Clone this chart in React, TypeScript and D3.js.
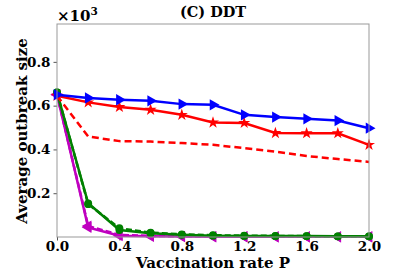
import React, { useEffect, useRef } from "react";
import * as d3 from "d3";

const rates = [0, 0.2, 0.4, 0.6, 0.8, 1.0, 1.2, 1.4, 1.6, 1.8, 2.0];
const blueTri = [0.65, 0.635, 0.627, 0.622, 0.607, 0.604, 0.558, 0.548, 0.54, 0.532, 0.497];
const redStar = [0.645, 0.615, 0.594, 0.581, 0.558, 0.523, 0.521, 0.475, 0.474, 0.474, 0.421];
const redDash = [0.645, 0.459, 0.438, 0.436, 0.429, 0.421, 0.406, 0.39, 0.37, 0.356, 0.343];
const greenDot = [0.66, 0.154, 0.032, 0.017, 0.01, 0.006, 0.005, 0.004, 0.004, 0.003, 0.003];
const greenDash = [0.66, 0.15, 0.04, 0.02, 0.012, 0.008, 0.006, 0.005, 0.004, 0.003, 0.003];
const magTri = [0.65, 0.044, 0.006, 0.003, 0.002, 0.001, 0.001, 0.001, 0.001, 0.001, 0.001];
const magDash = [0.65, 0.05, 0.01, 0.005, 0.003, 0.002, 0.002, 0.001, 0.001, 0.001, 0.001];
const xTicks = [0, 0.4, 0.8, 1.2, 1.6, 2.0];
const yTicks = [0.2, 0.4, 0.6, 0.8];

const series = [
  { vals: magDash, color: "#bf00bf", dash: "6,3", marker: "tl" },
  { vals: magTri, color: "#bf00bf", dash: null, marker: "tl" },
  { vals: greenDash, color: "#008000", dash: "6,3", marker: "circle" },
  { vals: greenDot, color: "#008000", dash: null, marker: "circle" },
  { vals: redDash, color: "#ff0000", dash: "7,4", marker: null },
  { vals: redStar, color: "#ff0000", dash: null, marker: "star" },
  { vals: blueTri, color: "#0000ff", dash: null, marker: "tr" },
];

export default function App() {
  const ref = useRef<SVGSVGElement>(null);

  useEffect(() => {
    const margin = { top: 24, right: 42, bottom: 36, left: 57 },
      W = 411, H = 273,
      w = W - margin.left - margin.right,
      h = H - margin.top - margin.bottom;
    const font = "DejaVu Serif";

    const svg = d3.select(ref.current);
    svg.selectAll("*").remove();
    const g = svg.append("g").attr("transform", `translate(${margin.left}, ${margin.top})`);

    const x = d3.scaleLinear().domain([0, 2]).range([0, w]);
    const y = d3.scaleLinear().domain([0, 0.973]).range([h, 0]);

    // axes
    const xa = g.append("g").attr("transform", `translate(0, ${h})`)
      .call(d3.axisBottom(x).tickValues(xTicks).tickFormat(d3.format(".1f")).tickSize(3.5).tickSizeOuter(0));
    const ya = g.append("g")
      .call(d3.axisLeft(y).tickValues(yTicks).tickFormat(d3.format(".1f")).tickSize(3.5).tickSizeOuter(0));
    [xa, ya].forEach(a => {
      a.attr("font-family", null).attr("font-size", null);
      a.select(".domain").remove();
      a.selectAll("line").attr("stroke", "#555");
      a.selectAll("text").attr("font-family", font).attr("font-weight", "bold")
        .attr("font-size", 13.5).attr("fill", "#000");
    });
    xa.selectAll("text").attr("dy", "0.55em");

    // lines
    const line = d3.line<number>().x((d, i) => x(rates[i])).y(d => y(d));
    series.forEach(s => {
      g.append("path").datum(s.vals).attr("d", line).attr("fill", "none")
        .attr("stroke", s.color).attr("stroke-width", 2.5)
        .attr("stroke-dasharray", s.dash ?? null);
      if (!s.marker) return;
      const sym = s.marker === "circle" ? d3.symbolCircle
        : s.marker === "star" ? d3.symbolStar : d3.symbolTriangle;
      const size = s.marker === "circle" ? 48 : s.marker === "star" ? 45 : 55;
      const rot = s.marker === "tr" ? 90 : s.marker === "tl" ? -90 : 0;
      g.selectAll(null).data(s.vals).join("path")
        .attr("d", d3.symbol().type(sym).size(size)())
        .attr("transform", (d, i) => `translate(${x(rates[i])}, ${y(d)}) rotate(${rot})`)
        .attr("fill", s.color);
    });

    // frame
    g.append("rect").attr("width", w).attr("height", h).attr("fill", "none")
      .attr("stroke", "#999").attr("stroke-width", 1);

    // labels
    svg.append("text").attr("x", margin.left + w / 2).attr("y", 17).attr("text-anchor", "middle")
      .attr("font-family", font).attr("font-weight", "bold").attr("font-size", 14.5)
      .text("(C) DDT");
    const ex = svg.append("text").attr("x", margin.left).attr("y", 21)
      .attr("font-family", font).attr("font-weight", "bold").attr("font-size", 15);
    ex.append("tspan").text("×10");
    ex.append("tspan").attr("dy", -6).attr("font-size", 10.5).text("3");
    svg.append("text").attr("x", margin.left + w / 2).attr("y", 268).attr("text-anchor", "middle")
      .attr("font-family", font).attr("font-weight", "bold").attr("font-size", 15)
      .text("Vaccination rate P");
    svg.append("text").attr("transform", `translate(27, ${131}) rotate(-90)`)
      .attr("text-anchor", "middle")
      .attr("font-family", font).attr("font-weight", "bold").attr("font-size", 15)
      .text("Average outbreak size");
  }, []);

  return (
    <svg ref={ref} width={411} height={273}
      style={{ position: "absolute", left: 0, top: 0, background: "#fff" }} />
  );
}
